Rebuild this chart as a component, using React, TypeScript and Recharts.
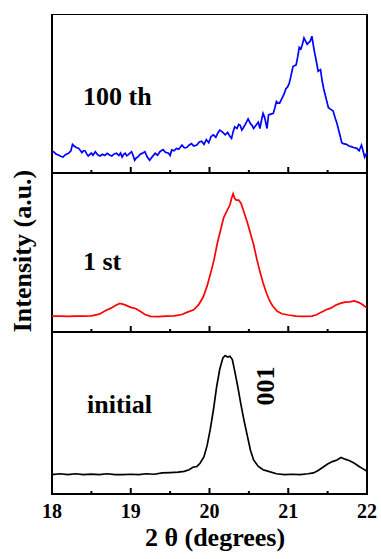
import React from 'react'
import { LineChart, Line, XAxis, YAxis, ReferenceArea } from 'recharts'

// 2θ positions and normalised intensities
const scan100th: [number, number][] = [
  [18.0, 0.13], [18.02, 0.134], [18.05, 0.12], [18.08, 0.113], [18.11, 0.105], [18.14, 0.1],
  [18.17, 0.115], [18.21, 0.124], [18.24, 0.14], [18.26, 0.18], [18.28, 0.17], [18.31, 0.16],
  [18.34, 0.155], [18.38, 0.128], [18.4, 0.14], [18.42, 0.14], [18.44, 0.12], [18.46, 0.107],
  [18.5, 0.125], [18.52, 0.112], [18.55, 0.134], [18.58, 0.115], [18.61, 0.107], [18.64, 0.118],
  [18.67, 0.11], [18.7, 0.124], [18.73, 0.113], [18.76, 0.107], [18.79, 0.12], [18.82, 0.124],
  [18.85, 0.11], [18.87, 0.125], [18.89, 0.1], [18.91, 0.118], [18.93, 0.124], [18.95, 0.108],
  [18.97, 0.115], [19.01, 0.134], [19.03, 0.11], [19.05, 0.08], [19.07, 0.095], [19.09, 0.1],
  [19.12, 0.118], [19.15, 0.125], [19.18, 0.134], [19.21, 0.1], [19.24, 0.08], [19.27, 0.1],
  [19.31, 0.124], [19.34, 0.112], [19.37, 0.134], [19.41, 0.147], [19.44, 0.13], [19.48, 0.124],
  [19.5, 0.11], [19.52, 0.145], [19.55, 0.14], [19.58, 0.155], [19.61, 0.15], [19.65, 0.176],
  [19.68, 0.158], [19.71, 0.16], [19.74, 0.175], [19.77, 0.185], [19.8, 0.17], [19.84, 0.176],
  [19.87, 0.195], [19.9, 0.2], [19.93, 0.18], [19.96, 0.21], [19.99, 0.19], [20.02, 0.23],
  [20.05, 0.24], [20.08, 0.225], [20.11, 0.255], [20.13, 0.27], [20.16, 0.26], [20.2, 0.24],
  [20.23, 0.255], [20.26, 0.23], [20.28, 0.218], [20.3, 0.26], [20.32, 0.29], [20.35, 0.28],
  [20.37, 0.305], [20.39, 0.3], [20.41, 0.27], [20.43, 0.285], [20.46, 0.31], [20.49, 0.34],
  [20.52, 0.31], [20.54, 0.3], [20.56, 0.28], [20.59, 0.3], [20.62, 0.32], [20.64, 0.28],
  [20.66, 0.33], [20.68, 0.375], [20.7, 0.35], [20.73, 0.28], [20.75, 0.365], [20.78, 0.37],
  [20.81, 0.375], [20.83, 0.41], [20.85, 0.45], [20.87, 0.44], [20.89, 0.44], [20.92, 0.47],
  [20.95, 0.5], [20.97, 0.53], [20.99, 0.54], [21.01, 0.56], [21.03, 0.6], [21.06, 0.67],
  [21.08, 0.675], [21.1, 0.68], [21.12, 0.73], [21.14, 0.79], [21.16, 0.78], [21.18, 0.81],
  [21.2, 0.85], [21.22, 0.83], [21.24, 0.81], [21.26, 0.82], [21.28, 0.83], [21.3, 0.86],
  [21.32, 0.8], [21.33, 0.77], [21.35, 0.72], [21.38, 0.64], [21.41, 0.65], [21.43, 0.58],
  [21.45, 0.53], [21.48, 0.47], [21.51, 0.41], [21.54, 0.4], [21.57, 0.39], [21.6, 0.34],
  [21.62, 0.31], [21.65, 0.25], [21.68, 0.19], [21.7, 0.185], [21.74, 0.18], [21.77, 0.17],
  [21.8, 0.166], [21.83, 0.16], [21.87, 0.155], [21.9, 0.14], [21.93, 0.176], [21.95, 0.14],
  [21.97, 0.1], [22.0, 0.13],
]

const scan1st: [number, number][] = [
  [18.0, 0.1], [18.1, 0.1], [18.2, 0.098], [18.3, 0.1], [18.4, 0.1], [18.5, 0.102],
  [18.6, 0.112], [18.7, 0.14], [18.75, 0.15], [18.8, 0.165], [18.86, 0.18], [18.92, 0.172],
  [19.0, 0.155], [19.06, 0.148], [19.12, 0.13], [19.18, 0.11], [19.25, 0.098], [19.35, 0.097],
  [19.45, 0.1], [19.55, 0.102], [19.65, 0.11], [19.72, 0.125], [19.8, 0.14], [19.86, 0.17],
  [19.92, 0.22], [19.97, 0.29], [20.02, 0.38], [20.06, 0.46], [20.1, 0.56], [20.14, 0.64],
  [20.18, 0.72], [20.22, 0.76], [20.26, 0.8], [20.28, 0.84], [20.3, 0.87], [20.32, 0.84],
  [20.34, 0.83], [20.37, 0.83], [20.4, 0.81], [20.44, 0.75], [20.48, 0.69], [20.52, 0.62],
  [20.56, 0.55], [20.6, 0.46], [20.64, 0.38], [20.68, 0.31], [20.72, 0.25], [20.76, 0.2],
  [20.8, 0.165], [20.86, 0.13], [20.92, 0.115], [21.0, 0.107], [21.1, 0.1], [21.2, 0.098],
  [21.3, 0.1], [21.36, 0.108], [21.42, 0.125], [21.48, 0.14], [21.54, 0.15], [21.6, 0.168],
  [21.66, 0.18], [21.72, 0.188], [21.78, 0.19], [21.84, 0.195], [21.9, 0.185], [21.95, 0.17],
  [22.0, 0.15],
]

const scanInitial: [number, number][] = [
  [18.0, 0.12], [18.1, 0.125], [18.2, 0.12], [18.3, 0.125], [18.4, 0.12], [18.5, 0.123],
  [18.6, 0.12], [18.7, 0.125], [18.8, 0.12], [18.9, 0.12], [19.0, 0.122], [19.1, 0.12],
  [19.2, 0.125], [19.3, 0.122], [19.4, 0.13], [19.5, 0.132], [19.6, 0.135], [19.68, 0.14],
  [19.74, 0.15], [19.79, 0.165], [19.84, 0.17], [19.88, 0.19], [19.93, 0.23], [19.97, 0.3],
  [20.01, 0.4], [20.05, 0.52], [20.09, 0.66], [20.13, 0.77], [20.17, 0.84], [20.2, 0.855],
  [20.23, 0.845], [20.26, 0.85], [20.29, 0.83], [20.32, 0.76], [20.36, 0.66], [20.4, 0.55],
  [20.44, 0.45], [20.48, 0.36], [20.52, 0.27], [20.56, 0.21], [20.62, 0.17], [20.68, 0.15],
  [20.75, 0.14], [20.85, 0.125], [20.95, 0.12], [21.05, 0.122], [21.15, 0.12], [21.25, 0.125],
  [21.32, 0.13], [21.38, 0.145], [21.44, 0.165], [21.5, 0.185], [21.56, 0.2], [21.62, 0.21],
  [21.67, 0.225], [21.72, 0.215], [21.78, 0.205], [21.84, 0.19], [21.9, 0.17], [21.95, 0.155],
  [22.0, 0.14],
]

// major ticks are labelled, half-degree ticks are minor
const xTicks = [18, 18.5, 19, 19.5, 20, 20.5, 21, 21.5, 22]

const serif = "'Liberation Serif', 'Times New Roman', serif"

// inward tick marks (and, on the bottom panel, the numbers under them)
function makeTick(showLabels: boolean) {
  return (props: any) => {
    const { x, y, payload } = props
    const major = Number.isInteger(payload.value)
    const len = major ? 6 : 3
    return (
      <g>
        <line x1={x} x2={x} y1={y} y2={y - len} stroke="#000" strokeWidth={2} />
        {showLabels && major && (
          <text
            x={x}
            y={y + 24}
            textAnchor="middle"
            fontSize={20}
            fontWeight="bold"
            fontFamily={serif}
            fill="#000"
          >
            {payload.value}
          </text>
        )}
      </g>
    )
  }
}

function Panel({
  scan,
  color,
  top,
  height,
  showLabels = false,
}: {
  scan: [number, number][]
  color: string
  top: number
  height: number
  showLabels?: boolean
}) {
  const data = scan.map(([t, v]) => ({ t, v }))
  const axisH = showLabels ? 30 : 1
  return (
    <div style={{ position: 'absolute', left: 0, top }}>
      <LineChart
        width={381}
        height={height + axisH}
        data={data}
        margin={{ top: 0, right: 14, bottom: 0, left: 52 }}
      >
        <XAxis
          dataKey="t"
          type="number"
          domain={[18, 22]}
          allowDataOverflow
          ticks={xTicks}
          interval={0}
          height={axisH}
          tickSize={0}
          tickMargin={0}
          axisLine={false}
          tickLine={false}
          tick={makeTick(showLabels)}
        />
        <YAxis domain={[0, 1]} type="number" allowDataOverflow hide />
        <Line
          dataKey="v"
          stroke={color}
          strokeWidth={1.7}
          dot={false}
          type="linear"
          isAnimationActive={false}
        />
        <ReferenceArea
          x1={18}
          x2={22}
          y1={0}
          y2={1}
          fill="none"
          fillOpacity={0}
          stroke="#000"
          strokeWidth={2}
          ifOverflow="visible"
        />
      </LineChart>
    </div>
  )
}

export default function App() {
  const textStyle = { fontFamily: serif, fontWeight: 'bold' as const, fill: '#000' }
  return (
    <div style={{ position: 'absolute', left: 0, top: 0, width: 381, height: 559, background: '#fff' }}>
      <Panel scan={scan100th} color="#0000ff" top={14} height={159} />
      <Panel scan={scan1st} color="#ff0000" top={173} height={159} />
      <Panel scan={scanInitial} color="#000000" top={332} height={162} showLabels />
      <svg
        width={381}
        height={559}
        style={{ position: 'absolute', left: 0, top: 0, pointerEvents: 'none' }}
      >
        <text x={83} y={105} fontSize={26} {...textStyle}>100 th</text>
        <text x={83} y={270} fontSize={26} {...textStyle}>1 st</text>
        <text x={87} y={413} fontSize={26} {...textStyle}>initial</text>
        <text transform="translate(274,386) rotate(-90)" textAnchor="middle" fontSize={26} {...textStyle}>
          001
        </text>
        <text transform="translate(31,251) rotate(-90)" textAnchor="middle" fontSize={26} {...textStyle}>
          Intensity (a.u.)
        </text>
        <text x={215} y={546} textAnchor="middle" fontSize={26} {...textStyle}>
          2 θ (degrees)
        </text>
      </svg>
    </div>
  )
}
